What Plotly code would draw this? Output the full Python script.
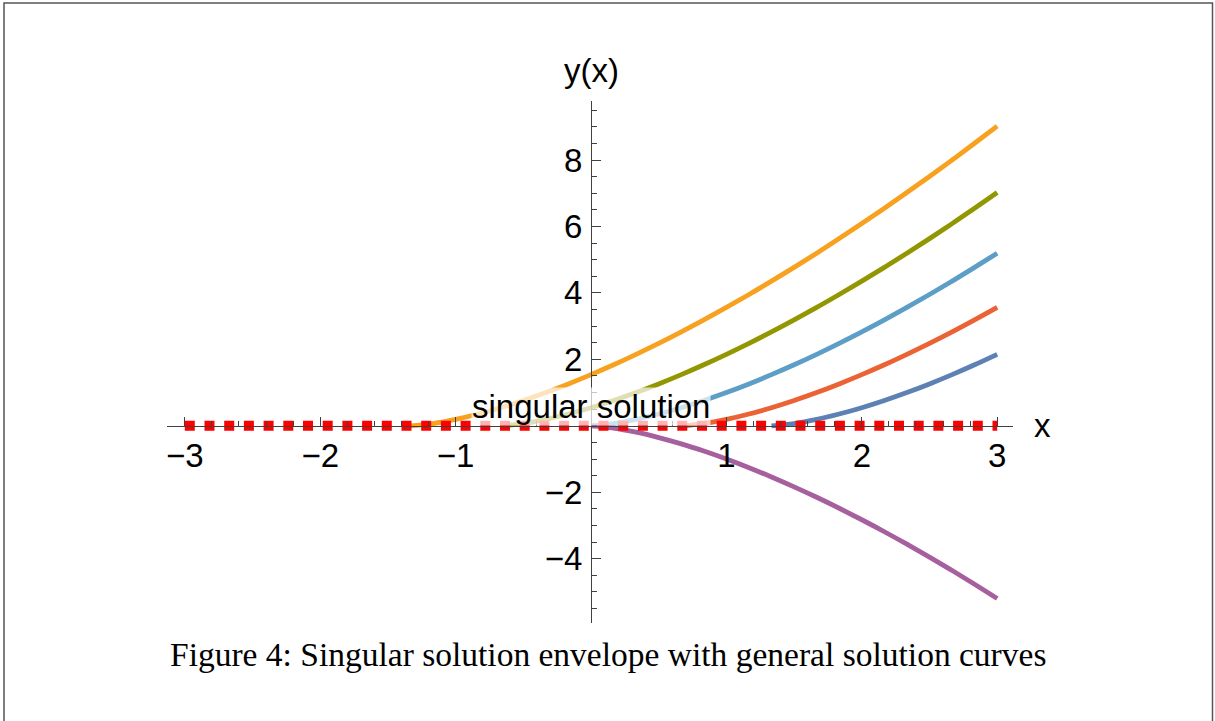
"""Singular solution y = 0 drawn over a family of general solution curves."""

import plotly.graph_objects as go

# sample points (common x grid, None where a curve is absent)
x_grid = [-1.333, -1.167, -1.0, -0.833, -0.667, -0.5, -0.333, -0.167, 0.0, 0.167,
          0.333, 0.5, 0.667, 0.833, 1.0, 1.167, 1.333, 1.5, 1.667, 1.833, 2.0,
          2.167, 2.333, 2.5, 2.667, 2.833, 3.0]

y_orange = [0.0, 0.068, 0.192, 0.354, 0.544, 0.761, 1.0, 1.26, 1.54, 1.837, 2.152,
            2.482, 2.828, 3.189, 3.564, 3.953, 4.355, 4.769, 5.196, 5.635, 6.086,
            6.548, 7.021, 7.505, 8.0, 8.505, 9.021]
y_olive = [None, None, None, None,
           0.0, 0.068, 0.192, 0.354, 0.544, 0.761, 1.0, 1.26, 1.54, 1.837, 2.152,
           2.482, 2.828, 3.189, 3.564, 3.953, 4.355, 4.769, 5.196, 5.635, 6.086,
           6.548, 7.021]
y_lightblue = [None, None, None, None, None, None, None, None,
               0.0, 0.068, 0.192, 0.354, 0.544, 0.761, 1.0, 1.26, 1.54, 1.837,
               2.152, 2.482, 2.828, 3.189, 3.564, 3.953, 4.355, 4.769, 5.196]
y_red = [None, None, None, None, None, None, None, None, None, None, None, None,
         0.0, 0.068, 0.192, 0.354, 0.544, 0.761, 1.0, 1.26, 1.54, 1.837, 2.152,
         2.482, 2.828, 3.189, 3.564]
y_darkblue = [None, None, None, None, None, None, None, None, None, None, None,
              None, None, None, None, None,
              0.0, 0.068, 0.192, 0.354, 0.544, 0.761, 1.0, 1.26, 1.54, 1.837, 2.152]
y_purple = [None, None, None, None, None, None, None, None,
            0.0, -0.068, -0.192, -0.354, -0.544, -0.761, -1.0, -1.26, -1.54,
            -1.837, -2.152, -2.482, -2.828, -3.189, -3.564, -3.953, -4.355,
            -4.769, -5.196]

curve_series = [y_orange, y_olive, y_lightblue, y_red, y_darkblue, y_purple]
curve_colors = ["#f7a11f", "#929600", "#5d9ec7", "#eb6235", "#5e81b5", "#a5609d"]

singular_x = [-3, 3]
singular_y = [0, 0]

x_ticks = [-3, -2, -1, 1, 2, 3]
y_ticks = [-4, -2, 2, 4, 6, 8]

caption = "Figure 4: Singular solution envelope with general solution curves"

W, H = 1215, 721
SANS = "Liberation Sans, Arial, sans-serif"
SERIF = "Liberation Serif, Times New Roman, serif"
AXIS_COLOR = "#404040"

# pixel geometry of the plot area
X0_PX, X1_PX = 167, 1013
Y0_PX, Y1_PX = 101, 623
ORIGIN_PX = (591, 425.8)
X_SCALE, Y_SCALE = 135.4, 33.22


def paper_text(text, x_px, y_px, font):
    """Annotation placed by pixel centre on the page."""
    return dict(text=text, x=x_px / W, y=1 - y_px / H, xref="paper", yref="paper",
                xanchor="center", yanchor="middle", showarrow=False, font=font)


def build_figure() -> go.Figure:
    fig = go.Figure()
    for ys, color in zip(curve_series, curve_colors):
        fig.add_trace(go.Scatter(
            x=x_grid, y=ys, mode="lines",
            line=dict(color=color, width=4.8, shape="spline", smoothing=1),
            connectgaps=False, hoverinfo="skip", showlegend=False,
        ))
    fig.add_trace(go.Scatter(
        x=singular_x, y=singular_y, mode="lines",
        line=dict(color="#ff0000", width=10, dash="10px,9.7px"),
        hoverinfo="skip", showlegend=False,
    ))

    ox, oy = ORIGIN_PX
    x_range = [(X0_PX - ox) / X_SCALE, (X1_PX - ox) / X_SCALE]
    y_range = [(oy - Y1_PX) / Y_SCALE, (oy - Y0_PX) / Y_SCALE]

    sans = dict(family=SANS, size=33, color="black")
    fig.update_layout(
        width=W, height=H,
        margin=dict(l=0, r=0, t=0, b=0),
        paper_bgcolor="white", plot_bgcolor="white",
        xaxis=dict(
            domain=[X0_PX / W, X1_PX / W], range=x_range,
            anchor="free", position=1 - oy / H,
            showgrid=False, zeroline=False,
            showline=True, linecolor=AXIS_COLOR, linewidth=1.3,
            tickmode="array", tickvals=x_ticks,
            ticks="inside", ticklen=9, tickwidth=1.3, tickcolor=AXIS_COLOR,
            minor=dict(tickmode="linear", tick0=0, dtick=0.2, ticks="inside",
                       ticklen=5, tickwidth=1, tickcolor=AXIS_COLOR, showgrid=False),
            tickfont=sans, ticklabelstandoff=0,
        ),
        yaxis=dict(
            domain=[1 - Y1_PX / H, 1 - Y0_PX / H], range=y_range,
            anchor="free", position=ox / W,
            showgrid=False, zeroline=False,
            showline=True, linecolor=AXIS_COLOR, linewidth=1.3,
            tickmode="array", tickvals=y_ticks,
            ticks="inside", ticklen=9, tickwidth=1.3, tickcolor=AXIS_COLOR,
            minor=dict(tickmode="linear", tick0=0, dtick=0.5, ticks="inside",
                       ticklen=5, tickwidth=1, tickcolor=AXIS_COLOR, showgrid=False),
            tickfont=sans, ticklabelstandoff=2,
        ),
        annotations=[
            dict(text="singular solution", x=0, y=0.57, xref="x", yref="y",
                 xanchor="center", yanchor="middle", showarrow=False, font=sans,
                 bgcolor="rgba(255,255,255,0.7)", borderpad=0),
            paper_text("y(x)", ox, 71, sans),
            paper_text("x", 1042, 425.5, sans),
            paper_text(caption, 608, 654, dict(family=SERIF, size=33.5, color="black")),
        ],
        shapes=[
            dict(type="rect", xref="paper", yref="paper",
                 x0=4 / W, x1=1212.5 / W, y0=-0.05, y1=1 - 3 / H,
                 line=dict(color="#555555", width=1.5)),
        ],
    )
    return fig


fig = build_figure()
fig.write_html(
    "out.html",
    config={"displayModeBar": False},
    post_script="document.body.style.margin='0';document.body.style.overflow='hidden';",
)
